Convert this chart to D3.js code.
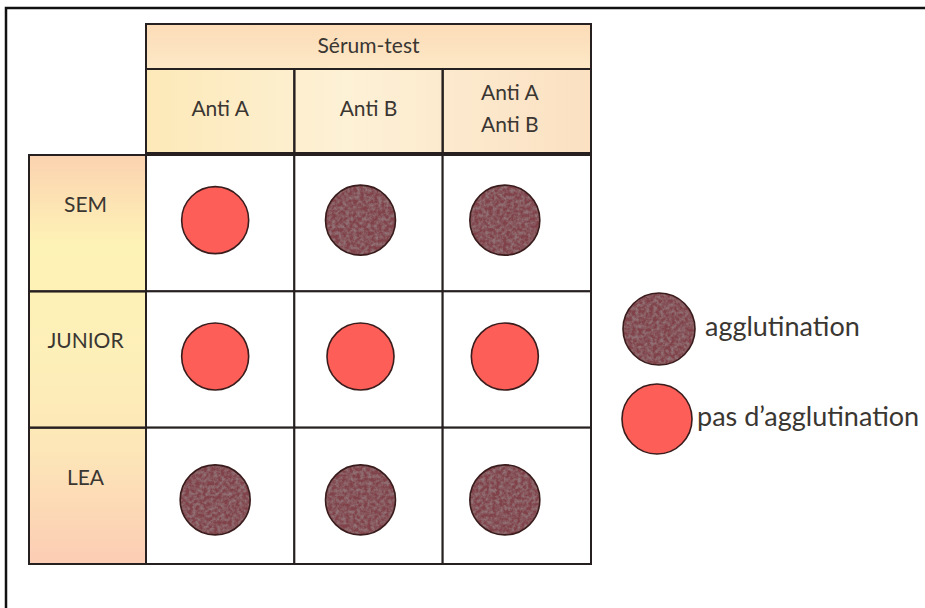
<!DOCTYPE html>
<html><head><meta charset="utf-8">
<script src="https://cdn.jsdelivr.net/npm/d3@7"></script>
<style>html,body{margin:0;padding:0;background:#fff;}svg{display:block;}</style>
</head><body>
<script>
// ---- data ----
const headerTitle = "Sérum-test";
const columns = ["Anti A", "Anti B", "Anti A\nAnti B"];
const rows = ["SEM", "JUNIOR", "LEA"];
// 1 = agglutination, 0 = pas d'agglutination
const agglutination = [
  [0, 1, 1],
  [0, 0, 0],
  [1, 1, 1]
];
const legendLabels = ["agglutination", "pas d\u2019agglutination"];
const legendValues = [1, 0];

const W = 925, H = 608;
const font = "Lato, 'Open Sans', sans-serif";
const textColor = "#3a3632";
const svg = d3.select("body").append("svg").attr("width", W).attr("height", H);
const defs = svg.append("defs");

// gradients
const gHead = defs.append("linearGradient").attr("id", "gHead").attr("x1", 0).attr("y1", 0).attr("x2", 1).attr("y2", 0);
[["0%", "#fde9b8"], ["45%", "#fdf1d6"], ["100%", "#fbe0c2"]].forEach(s => gHead.append("stop").attr("offset", s[0]).attr("stop-color", s[1]));
const gHeadV = defs.append("linearGradient").attr("id", "gHeadV").attr("x1", 0).attr("y1", 0).attr("x2", 0).attr("y2", 1);
[["0%", "#fcdcb8"], ["100%", "#fde8c6"]].forEach(s => gHeadV.append("stop").attr("offset", s[0]).attr("stop-color", s[1]));
const gRow = defs.append("linearGradient").attr("id", "gRow").attr("x1", 0).attr("y1", 0).attr("x2", 0).attr("y2", 1);
[["0%", "#fbd2b0"], ["22%", "#fef3b6"], ["50%", "#fdefb8"], ["72%", "#fde6b8"], ["100%", "#fccdb4"]].forEach(s => gRow.append("stop").attr("offset", s[0]).attr("stop-color", s[1]));

// mottled texture filter
const f = defs.append("filter").attr("id", "mottle").attr("x", 0).attr("y", 0).attr("width", 1).attr("height", 1);
f.append("feTurbulence").attr("type", "fractalNoise").attr("baseFrequency", 0.28).attr("numOctaves", 3).attr("seed", 7).attr("result", "noise");
f.append("feColorMatrix").attr("in", "noise").attr("type", "matrix")
  .attr("values", "0 0 0 0 0.28  0 0 0 0 0.17  0 0 0 0 0.18  0 0 0 2.2 -0.7").attr("result", "spots");
f.append("feComposite").attr("in", "spots").attr("in2", "SourceGraphic").attr("operator", "in");

// outer frame
svg.append("path").attr("d", `M6,${H + 5} L6,8 L${W + 5},8`).attr("fill", "none").attr("stroke", "#111").attr("stroke-width", 2.5);

// scales
const x = d3.scaleBand().domain(columns).range([146, 591]);
const y = d3.scaleBand().domain(rows).range([155, 564]);
const rowHeadX0 = 29;
const titleY0 = 24, titleY1 = 69, subY1 = 153;
const r = d3.scaleOrdinal().domain([0, 1]).range([33.5, 35]);
const fill = d3.scaleOrdinal().domain([0, 1]).range(["#fd5e58", "#804149"]);

const stroke = "#262020";
// header title cell
svg.append("rect").attr("x", x.range()[0]).attr("y", titleY0).attr("width", x.range()[1] - x.range()[0]).attr("height", titleY1 - titleY0)
  .attr("fill", "url(#gHeadV)").attr("stroke", stroke).attr("stroke-width", 2);
svg.append("text").attr("x", (x.range()[0] + x.range()[1]) / 2).attr("y", 53)
  .attr("text-anchor", "middle").attr("font-family", font).attr("font-size", 21).attr("fill", textColor).text(headerTitle);

// sub header cells
const sub = svg.append("g");
sub.append("rect").attr("x", x.range()[0]).attr("y", titleY1).attr("width", x.range()[1] - x.range()[0]).attr("height", subY1 - titleY1)
  .attr("fill", "url(#gHead)");
columns.forEach((c, j) => {
  sub.append("rect").attr("x", x(c)).attr("y", titleY1).attr("width", x.bandwidth()).attr("height", subY1 - titleY1)
    .attr("fill", "none").attr("stroke", stroke).attr("stroke-width", 2);
  const lines = c.split("\n");
  lines.forEach((ln, i) => {
    sub.append("text").attr("x", x(c) + x.bandwidth() / 2 - (j === 2 ? 7 : 0))
      .attr("y", 116 + (i - (lines.length - 1) / 2) * 32)
      .attr("text-anchor", "middle").attr("font-family", font).attr("font-size", 21).attr("fill", textColor).text(ln);
  });
});

// row header column
svg.append("rect").attr("x", rowHeadX0).attr("y", y.range()[0]).attr("width", x.range()[0] - rowHeadX0).attr("height", y.range()[1] - y.range()[0])
  .attr("fill", "url(#gRow)");
rows.forEach(rw => {
  svg.append("rect").attr("x", rowHeadX0).attr("y", y(rw)).attr("width", x.range()[0] - rowHeadX0).attr("height", y.bandwidth())
    .attr("fill", "none").attr("stroke", stroke).attr("stroke-width", 2);
  svg.append("text").attr("x", (rowHeadX0 + x.range()[0]) / 2 - 2).attr("y", y(rw) + 57)
    .attr("text-anchor", "middle").attr("font-family", font).attr("font-size", 21).attr("fill", textColor).text(rw);
});

// grid cells and circles
rows.forEach((rw, i) => {
  columns.forEach((c, j) => {
    const v = agglutination[i][j];
    svg.append("rect").attr("x", x(c)).attr("y", y(rw)).attr("width", x.bandwidth()).attr("height", y.bandwidth())
      .attr("fill", "#fff").attr("stroke", stroke).attr("stroke-width", 2);
    const cx = x(c) + x.bandwidth() / 2 - (j === 0 ? 5 : j === 1 ? 8 : 12), cy = y(rw) + y.bandwidth() / 2 + (i === 2 ? 4 : -3);
    drawDot(cx, cy, v, r(v));
  });
});

function drawDot(cx, cy, v, rad) {
  svg.append("circle").attr("cx", cx).attr("cy", cy).attr("r", rad).attr("fill", fill(v));
  if (v === 1) {
    svg.append("circle").attr("cx", cx).attr("cy", cy).attr("r", rad).attr("fill", "#000").attr("filter", "url(#mottle)");
  }
  svg.append("circle").attr("cx", cx).attr("cy", cy).attr("r", rad).attr("fill", "none").attr("stroke", "#3a1c1c").attr("stroke-width", 1.6);
}

// legend
const ly = d3.scalePoint().domain(legendLabels).range([329, 419]);
legendLabels.forEach((lab, i) => {
  const v = legendValues[i];
  drawDot(659 - i * 2, ly(lab), v, 36 - i);
  svg.append("text").attr("x", i === 0 ? 705 : 697).attr("y", ly(lab) + 7)
    .attr("font-family", font).attr("font-size", 27).attr("fill", textColor).text(lab);
});
</script>
</body></html>
